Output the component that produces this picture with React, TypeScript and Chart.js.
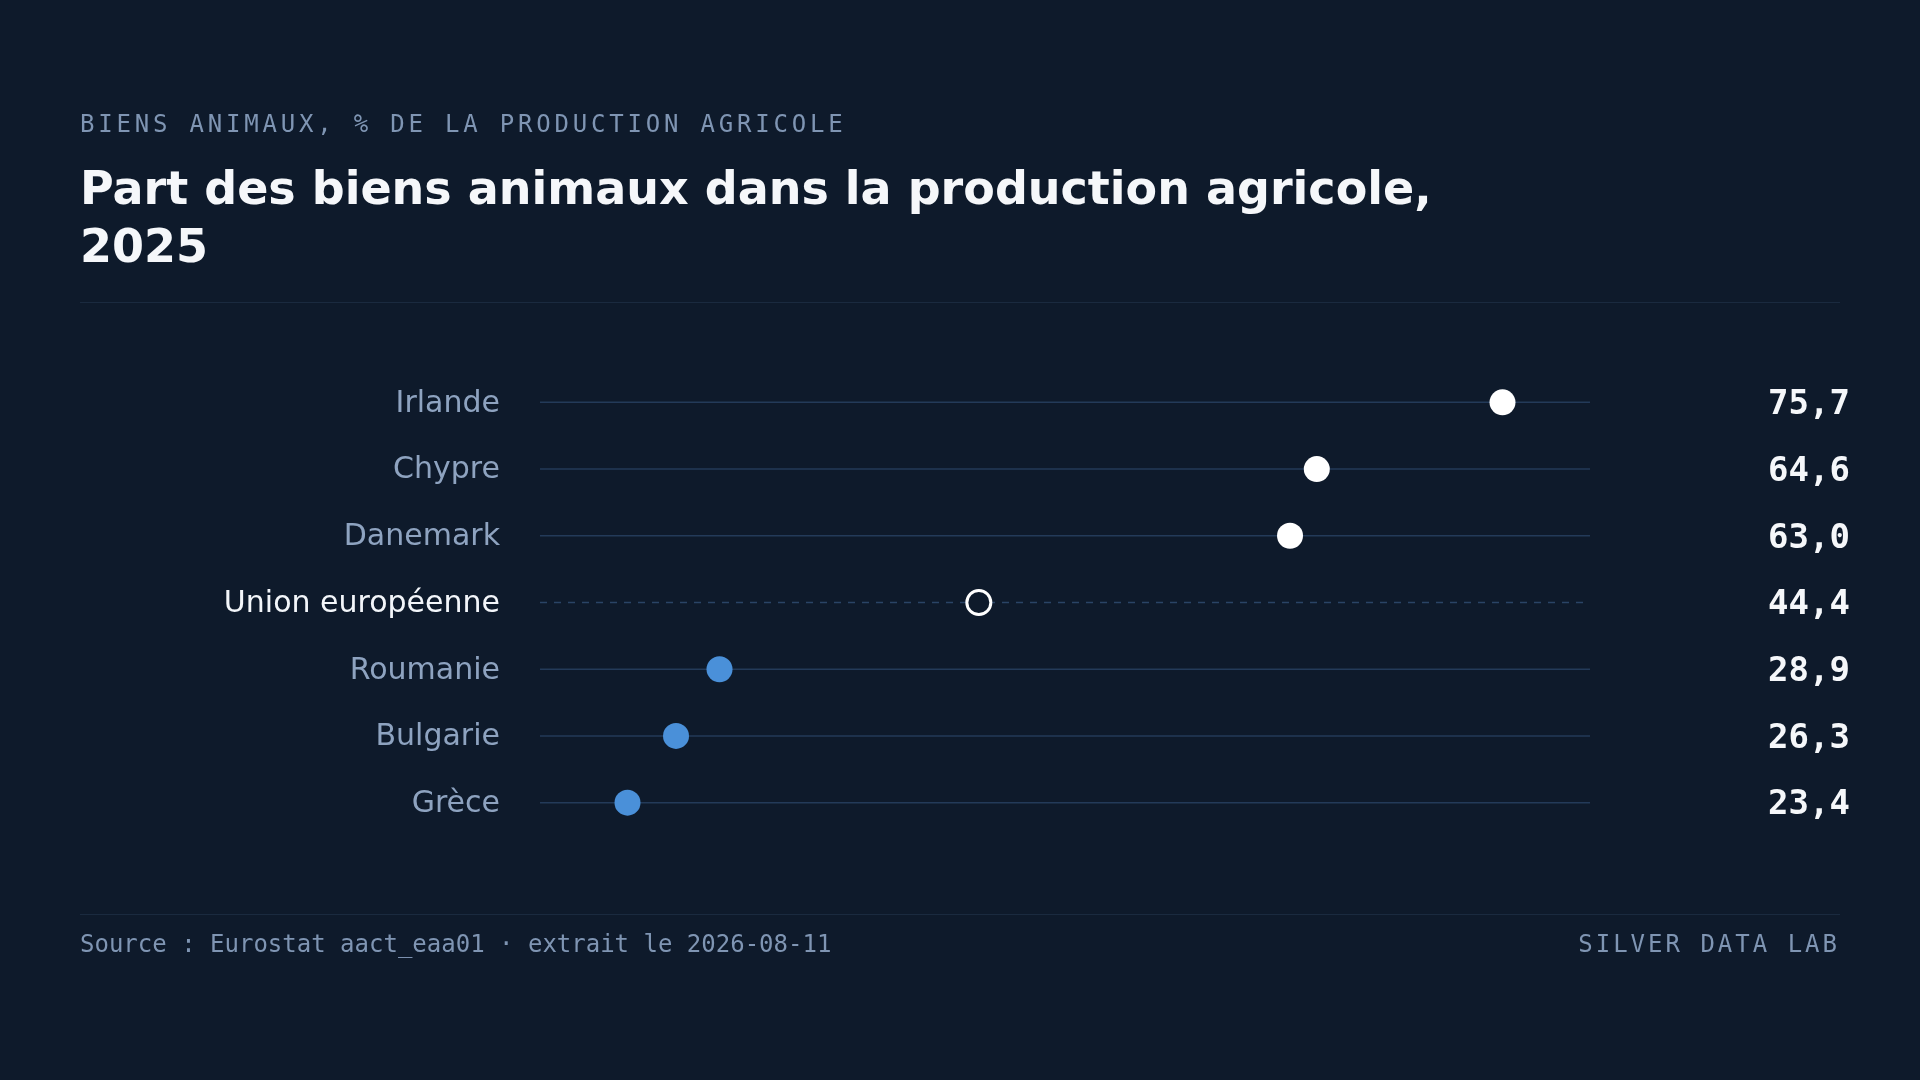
import React, { useEffect, useRef } from "react";
import { Chart, registerables } from "chart.js";

Chart.register(...registerables);

const countries = ["Irlande", "Chypre", "Danemark", "Union européenne", "Roumanie", "Bulgarie", "Grèce"];
const values = [75.7, 64.6, 63.0, 44.4, 28.9, 26.3, 23.4];
const groups = ["high", "high", "high", "eu", "low", "low", "low"];
const valueLabels = values.map((v) => v.toFixed(1).replace(".", ","));

const BG = "#0e1a2b";
const ROW_LINE = "#233a59";
const EU_LINE = "#2a4466";
const RULE = "#1a2a3f";
const SLATE = "#8ea3c0";
const MUTED = "#7f95b3";
const WHITE = "#ffffff";
const BLUE = "#4a90d9";

const euIndex = groups.indexOf("eu");

const rowLines = {
  id: "rowLines",
  beforeDatasetsDraw(chart: any) {
    const { ctx, chartArea, scales } = chart;
    const y = scales.y;
    ctx.save();
    ctx.lineWidth = 1.5;
    for (let i = 0; i < countries.length; i++) {
      const py = y.getPixelForValue(i);
      ctx.beginPath();
      if (groups[i] === "eu") {
        ctx.setLineDash([7, 7]);
        ctx.strokeStyle = EU_LINE;
      } else {
        ctx.setLineDash([]);
        ctx.strokeStyle = ROW_LINE;
      }
      ctx.moveTo(chartArea.left, py);
      ctx.lineTo(chartArea.right, py);
      ctx.stroke();
    }
    ctx.restore();
  },
};

export default function App() {
  const ref = useRef<HTMLCanvasElement | null>(null);

  useEffect(() => {
    if (!ref.current) return;
    const minV = Math.min(...values);
    const maxV = Math.max(...values);
    const pad = (maxV - minV) * 0.1;
    const chart = new Chart(ref.current, {
      type: "scatter",
      data: {
        datasets: [
          {
            data: values.map((v, i) => ({ x: v, y: countries[i] })) as any,
            pointRadius: groups.map((g) => (g === "eu" ? 12 : 13)),
            pointBorderWidth: groups.map((g) => (g === "eu" ? 3 : 0)),
            pointBackgroundColor: groups.map((g) => (g === "low" ? BLUE : g === "eu" ? BG : WHITE)),
            pointBorderColor: groups.map((g) => (g === "low" ? BLUE : WHITE)),
            pointHoverRadius: 13,
            clip: false as any,
          },
        ],
      },
      options: {
        animation: false,
        responsive: false,
        maintainAspectRatio: false,
        events: [],
        layout: { padding: { left: 0, right: 0, top: 369, bottom: 244 } },
        plugins: { legend: { display: false }, tooltip: { enabled: false } },
        scales: {
          x: {
            type: "linear",
            min: minV - pad,
            max: maxV + pad,
            display: false,
          },
          y: {
            type: "category",
            labels: countries,
            offset: true,
            position: "left",
            grid: { display: false, drawTicks: false },
            border: { display: false },
            afterFit: (scale: any) => {
              scale.width = 540;
            },
            ticks: {
              padding: 40,
              labelOffset: 1.5,
              font: { family: "DejaVu Sans", size: 30 },
              color: (ctx: any) => (ctx.index === euIndex ? "#f3f6fa" : SLATE),
            },
          },
          y2: {
            type: "category",
            labels: valueLabels,
            offset: true,
            position: "right",
            display: true,
            grid: { display: false, drawTicks: false },
            border: { display: false },
            afterFit: (scale: any) => {
              scale.width = 330;
            },
            ticks: {
              padding: 178,
              labelOffset: 3,
              font: { family: "DejaVu Sans Mono", size: 34, weight: "bold" },
              color: "#f5f7fa",
            },
          },
        },
      },
      plugins: [rowLines],
    });
    return () => chart.destroy();
  }, []);

  const mono = "'DejaVu Sans Mono', monospace";
  return (
    <div
      style={{
        position: "fixed",
        left: 0,
        top: 0,
        width: 1920,
        height: 1080,
        background: BG,
        overflow: "hidden",
      }}
    >
      <canvas
        ref={ref}
        width={1920}
        height={1080}
        style={{ position: "absolute", left: 0, top: 0, width: 1920, height: 1080 }}
      />
      <div
        style={{
          position: "absolute",
          left: 80,
          top: 112,
          fontFamily: mono,
          fontSize: 24,
          lineHeight: "24px",
          letterSpacing: "3.8px",
          color: MUTED,
          whiteSpace: "nowrap",
        }}
      >
        BIENS ANIMAUX, % DE LA PRODUCTION AGRICOLE
      </div>
      <div
        style={{
          position: "absolute",
          left: 80,
          top: 160,
          width: 1400,
          fontFamily: "'DejaVu Sans', sans-serif",
          fontWeight: "bold",
          fontSize: 46,
          lineHeight: "57.5px",
          color: "#f5f7fa",
        }}
      >
        Part des biens animaux dans la production agricole, 2025
      </div>
      <div style={{ position: "absolute", left: 80, top: 302, width: 1760, height: 1, background: RULE }} />
      <div style={{ position: "absolute", left: 80, top: 914, width: 1760, height: 1, background: RULE }} />
      <div
        style={{
          position: "absolute",
          left: 80,
          top: 932,
          fontFamily: mono,
          fontSize: 24,
          lineHeight: "24px",
          color: MUTED,
          whiteSpace: "nowrap",
        }}
      >
        Source : Eurostat aact_eaa01 · extrait le 2026-08-11
      </div>
      <div
        style={{
          position: "absolute",
          right: 80,
          top: 932,
          fontFamily: mono,
          fontSize: 24,
          lineHeight: "24px",
          letterSpacing: "3px",
          color: MUTED,
          whiteSpace: "nowrap",
        }}
      >
        SILVER DATA LAB
      </div>
    </div>
  );
}
